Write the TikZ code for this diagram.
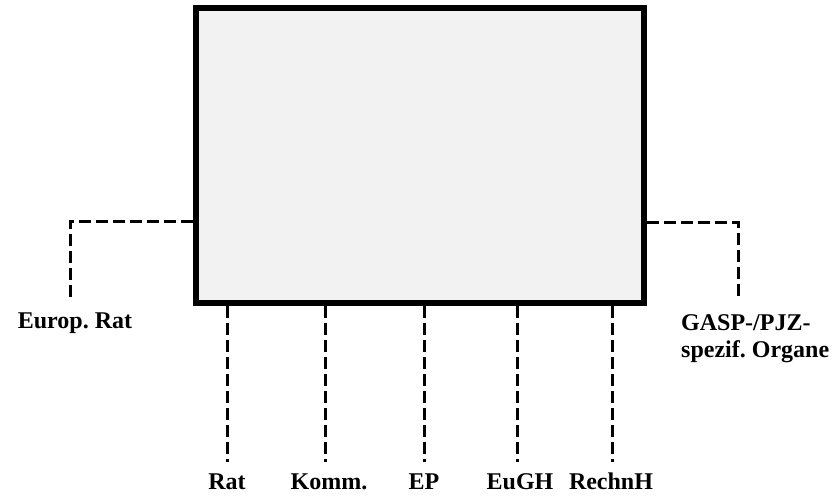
\documentclass[tikz,border=0pt]{standalone}
\usepackage{fontspec}
\setmainfont{Liberation Serif}
\frenchspacing
\definecolor{boxfill}{HTML}{F2F2F2}
\begin{document}
\begin{tikzpicture}[x=1pt,y=-1pt,
  mainbox/.style={draw=black,line width=6.5pt,fill=boxfill,minimum width=448pt,minimum height=295pt,inner sep=0pt},
  link/.style={line width=3pt,dash pattern=on 12pt off 5pt},
  lbl/.style={font=\fontsize{24}{27}\selectfont\bfseries,inner sep=0pt}]
\useasboundingbox (0,0) rectangle (837,496);
\node[mainbox] (box) at (420,306) [anchor=south] {};
% end coordinates
\coordinate (lc) at (70,300);
\coordinate (rc) at (738,300);
\coordinate (b1) at (227,462);
\coordinate (b2) at (325,462);
\coordinate (b3) at (424,462);
\coordinate (b4) at (517,462);
\coordinate (b5) at (612,462);
% labels
\node[lbl,anchor=base] (eur) at (75,328) {Europ. Rat};
\node[lbl,anchor=base west,align=left] (gasp) at (681,357) {GASP-/PJZ-\\spezif. Organe};
\node[lbl,anchor=base] (rat) at (227,489) {Rat};
\node[lbl,anchor=base] (komm) at (329,489) {Komm.};
\node[lbl,anchor=base] (ep) at (424,489) {EP};
\node[lbl,anchor=base] (eugh) at (520,489) {EuGH};
\node[lbl,anchor=base] (rechnh) at (611,489) {RechnH};
% connectors
\draw[link] (box.west |- 0,221) -- (lc |- 0,221) -- (lc);
\draw[link] (box.east |- 0,222) -- (rc |- 0,222) -- (rc);
\foreach \b in {b1,b2,b3,b4,b5}
  \draw[link] (box.south -| \b) -- (\b);
\end{tikzpicture}
\end{document}
